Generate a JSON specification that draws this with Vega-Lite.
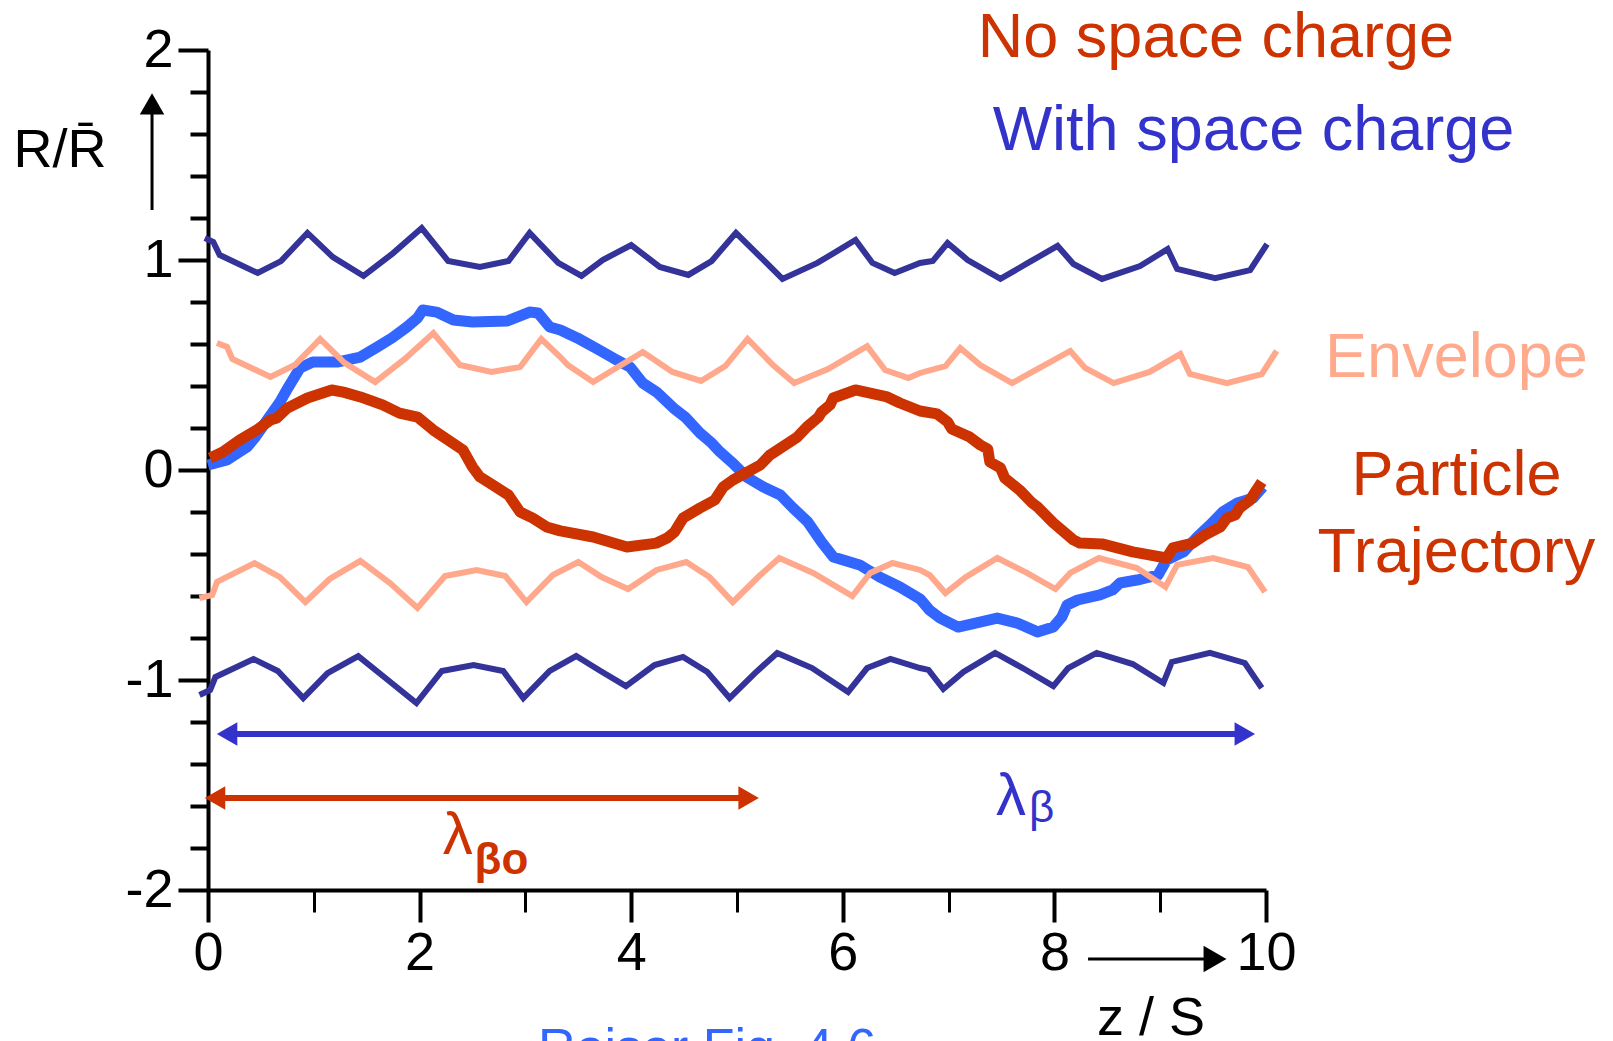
{
  "$schema": "https://vega.github.io/schema/vega-lite/v6.json",
  "width": 1058,
  "height": 840,
  "autosize": {"type": "none"},
  "padding": {"left": 208, "top": 50, "right": 347, "bottom": 151},
  "background": "white",
  "config": {"view": {"stroke": null}, "font": "Liberation Sans", "axis": {"grid": false, "title": null}},
  "datasets": {
    "withSC": [
      {"z":0.0,"r":0.024},{"z":0.18,"r":0.048},{"z":0.37,"r":0.11},{"z":0.44,"r":0.152},{"z":0.56,"r":0.238},{"z":0.68,"r":0.324},{"z":0.76,"r":0.395},{"z":0.87,"r":0.486},{"z":0.99,"r":0.514},{"z":1.22,"r":0.514},{"z":1.44,"r":0.538},{"z":1.6,"r":0.586},{"z":1.74,"r":0.629},{"z":1.88,"r":0.681},{"z":1.98,"r":0.724},{"z":2.03,"r":0.762},{"z":2.16,"r":0.752},{"z":2.32,"r":0.714},{"z":2.5,"r":0.705},{"z":2.83,"r":0.71},{"z":3.04,"r":0.752},{"z":3.12,"r":0.748},{"z":3.23,"r":0.681},{"z":3.33,"r":0.667},{"z":3.49,"r":0.629},{"z":3.68,"r":0.576},{"z":3.83,"r":0.533},{"z":3.99,"r":0.49},{"z":4.11,"r":0.414},{"z":4.24,"r":0.371},{"z":4.4,"r":0.295},{"z":4.51,"r":0.252},{"z":4.65,"r":0.176},{"z":4.76,"r":0.129},{"z":4.84,"r":0.086},{"z":4.96,"r":0.033},{"z":5.09,"r":-0.033},{"z":5.25,"r":-0.081},{"z":5.41,"r":-0.119},{"z":5.53,"r":-0.181},{"z":5.67,"r":-0.248},{"z":5.8,"r":-0.343},{"z":5.91,"r":-0.414},{"z":6.16,"r":-0.452},{"z":6.35,"r":-0.51},{"z":6.54,"r":-0.557},{"z":6.73,"r":-0.614},{"z":6.82,"r":-0.667},{"z":6.92,"r":-0.705},{"z":7.09,"r":-0.748},{"z":7.46,"r":-0.705},{"z":7.65,"r":-0.729},{"z":7.84,"r":-0.771},{"z":7.99,"r":-0.748},{"z":8.07,"r":-0.7},{"z":8.12,"r":-0.643},{"z":8.22,"r":-0.619},{"z":8.43,"r":-0.595},{"z":8.55,"r":-0.571},{"z":8.62,"r":-0.538},{"z":8.78,"r":-0.524},{"z":8.98,"r":-0.5},{"z":9.06,"r":-0.429},{"z":9.22,"r":-0.39},{"z":9.35,"r":-0.319},{"z":9.47,"r":-0.262},{"z":9.59,"r":-0.2},{"z":9.73,"r":-0.157},{"z":9.88,"r":-0.133},{"z":9.97,"r":-0.081}
    ],
    "noSC": [
      {"z":0.02,"r":0.057},{"z":0.14,"r":0.086},{"z":0.3,"r":0.143},{"z":0.46,"r":0.19},{"z":0.59,"r":0.238},{"z":0.65,"r":0.248},{"z":0.75,"r":0.295},{"z":0.94,"r":0.343},{"z":1.17,"r":0.381},{"z":1.28,"r":0.371},{"z":1.44,"r":0.348},{"z":1.65,"r":0.31},{"z":1.81,"r":0.271},{"z":1.98,"r":0.252},{"z":2.13,"r":0.19},{"z":2.41,"r":0.095},{"z":2.5,"r":0.014},{"z":2.57,"r":-0.033},{"z":2.69,"r":-0.071},{"z":2.84,"r":-0.119},{"z":2.95,"r":-0.2},{"z":3.07,"r":-0.229},{"z":3.2,"r":-0.271},{"z":3.33,"r":-0.29},{"z":3.64,"r":-0.319},{"z":3.96,"r":-0.367},{"z":4.24,"r":-0.348},{"z":4.34,"r":-0.324},{"z":4.41,"r":-0.295},{"z":4.49,"r":-0.229},{"z":4.65,"r":-0.181},{"z":4.79,"r":-0.143},{"z":4.87,"r":-0.081},{"z":4.96,"r":-0.048},{"z":5.22,"r":0.024},{"z":5.31,"r":0.071},{"z":5.57,"r":0.157},{"z":5.66,"r":0.205},{"z":5.77,"r":0.252},{"z":5.8,"r":0.276},{"z":5.88,"r":0.31},{"z":5.91,"r":0.343},{"z":6.12,"r":0.381},{"z":6.42,"r":0.348},{"z":6.54,"r":0.319},{"z":6.73,"r":0.281},{"z":6.89,"r":0.267},{"z":6.99,"r":0.229},{"z":7.03,"r":0.195},{"z":7.2,"r":0.157},{"z":7.3,"r":0.119},{"z":7.37,"r":0.1},{"z":7.39,"r":0.038},{"z":7.49,"r":0.01},{"z":7.53,"r":-0.038},{"z":7.67,"r":-0.095},{"z":7.79,"r":-0.157},{"z":7.84,"r":-0.176},{"z":7.99,"r":-0.252},{"z":8.18,"r":-0.333},{"z":8.24,"r":-0.348},{"z":8.45,"r":-0.352},{"z":8.74,"r":-0.39},{"z":9.06,"r":-0.419},{"z":9.12,"r":-0.371},{"z":9.31,"r":-0.348},{"z":9.42,"r":-0.31},{"z":9.57,"r":-0.271},{"z":9.63,"r":-0.229},{"z":9.71,"r":-0.214},{"z":9.75,"r":-0.181},{"z":9.85,"r":-0.143},{"z":9.91,"r":-0.095},{"z":9.96,"r":-0.057}
    ],
    "envNoSC": [
      {"edge":"upper","z":0.085,"r":0.605},{"edge":"upper","z":0.18,"r":0.586},{"edge":"upper","z":0.23,"r":0.529},{"edge":"upper","z":0.59,"r":0.443},{"edge":"upper","z":0.82,"r":0.5},{"edge":"upper","z":1.06,"r":0.624},{"edge":"upper","z":1.29,"r":0.51},{"edge":"upper","z":1.58,"r":0.419},{"edge":"upper","z":1.86,"r":0.529},{"edge":"upper","z":2.13,"r":0.652},{"edge":"upper","z":2.38,"r":0.5},{"edge":"upper","z":2.68,"r":0.467},{"edge":"upper","z":2.95,"r":0.49},{"edge":"upper","z":3.15,"r":0.624},{"edge":"upper","z":3.33,"r":0.538},{"edge":"upper","z":3.4,"r":0.5},{"edge":"upper","z":3.64,"r":0.419},{"edge":"upper","z":3.89,"r":0.495},{"edge":"upper","z":4.11,"r":0.562},{"edge":"upper","z":4.39,"r":0.467},{"edge":"upper","z":4.66,"r":0.424},{"edge":"upper","z":4.89,"r":0.495},{"edge":"upper","z":5.1,"r":0.624},{"edge":"upper","z":5.34,"r":0.5},{"edge":"upper","z":5.54,"r":0.414},{"edge":"upper","z":5.86,"r":0.481},{"edge":"upper","z":6.23,"r":0.59},{"edge":"upper","z":6.4,"r":0.476},{"edge":"upper","z":6.62,"r":0.438},{"edge":"upper","z":6.73,"r":0.462},{"edge":"upper","z":6.97,"r":0.495},{"edge":"upper","z":7.11,"r":0.581},{"edge":"upper","z":7.3,"r":0.5},{"edge":"upper","z":7.6,"r":0.414},{"edge":"upper","z":7.86,"r":0.486},{"edge":"upper","z":8.15,"r":0.567},{"edge":"upper","z":8.29,"r":0.486},{"edge":"upper","z":8.56,"r":0.414},{"edge":"upper","z":8.9,"r":0.467},{"edge":"upper","z":9.19,"r":0.552},{"edge":"upper","z":9.28,"r":0.457},{"edge":"upper","z":9.63,"r":0.414},{"edge":"upper","z":9.96,"r":0.457},{"edge":"upper","z":10.1,"r":0.567},
      {"edge":"lower","z":-0.08,"r":-0.61},{"edge":"lower","z":0.04,"r":-0.595},{"edge":"lower","z":0.085,"r":-0.533},{"edge":"lower","z":0.44,"r":-0.443},{"edge":"lower","z":0.68,"r":-0.51},{"edge":"lower","z":0.92,"r":-0.629},{"edge":"lower","z":1.15,"r":-0.519},{"edge":"lower","z":1.44,"r":-0.433},{"edge":"lower","z":1.72,"r":-0.538},{"edge":"lower","z":1.98,"r":-0.657},{"edge":"lower","z":2.24,"r":-0.505},{"edge":"lower","z":2.54,"r":-0.476},{"edge":"lower","z":2.81,"r":-0.505},{"edge":"lower","z":3.01,"r":-0.629},{"edge":"lower","z":3.26,"r":-0.5},{"edge":"lower","z":3.5,"r":-0.438},{"edge":"lower","z":3.72,"r":-0.51},{"edge":"lower","z":3.97,"r":-0.567},{"edge":"lower","z":4.24,"r":-0.476},{"edge":"lower","z":4.52,"r":-0.438},{"edge":"lower","z":4.74,"r":-0.51},{"edge":"lower","z":4.96,"r":-0.629},{"edge":"lower","z":5.21,"r":-0.505},{"edge":"lower","z":5.4,"r":-0.419},{"edge":"lower","z":5.72,"r":-0.49},{"edge":"lower","z":6.09,"r":-0.6},{"edge":"lower","z":6.26,"r":-0.49},{"edge":"lower","z":6.47,"r":-0.443},{"edge":"lower","z":6.73,"r":-0.476},{"edge":"lower","z":6.82,"r":-0.5},{"edge":"lower","z":6.97,"r":-0.586},{"edge":"lower","z":7.16,"r":-0.51},{"edge":"lower","z":7.46,"r":-0.419},{"edge":"lower","z":7.74,"r":-0.49},{"edge":"lower","z":8.01,"r":-0.567},{"edge":"lower","z":8.15,"r":-0.49},{"edge":"lower","z":8.42,"r":-0.419},{"edge":"lower","z":8.78,"r":-0.467},{"edge":"lower","z":9.05,"r":-0.557},{"edge":"lower","z":9.16,"r":-0.452},{"edge":"lower","z":9.5,"r":-0.419},{"edge":"lower","z":9.83,"r":-0.462},{"edge":"lower","z":9.99,"r":-0.581}
    ],
    "envWithSC": [
      {"edge":"upper","z":-0.03,"r":1.105},{"edge":"upper","z":0.05,"r":1.086},{"edge":"upper","z":0.11,"r":1.024},{"edge":"upper","z":0.47,"r":0.938},{"edge":"upper","z":0.69,"r":0.995},{"edge":"upper","z":0.94,"r":1.129},{"edge":"upper","z":1.18,"r":1.014},{"edge":"upper","z":1.47,"r":0.924},{"edge":"upper","z":1.75,"r":1.033},{"edge":"upper","z":2.02,"r":1.152},{"edge":"upper","z":2.27,"r":0.995},{"edge":"upper","z":2.57,"r":0.967},{"edge":"upper","z":2.84,"r":0.995},{"edge":"upper","z":3.04,"r":1.129},{"edge":"upper","z":3.31,"r":0.986},{"edge":"upper","z":3.53,"r":0.924},{"edge":"upper","z":3.73,"r":1.0},{"edge":"upper","z":4.0,"r":1.071},{"edge":"upper","z":4.27,"r":0.967},{"edge":"upper","z":4.54,"r":0.929},{"edge":"upper","z":4.76,"r":0.995},{"edge":"upper","z":4.99,"r":1.129},{"edge":"upper","z":5.24,"r":1.005},{"edge":"upper","z":5.43,"r":0.91},{"edge":"upper","z":5.76,"r":0.986},{"edge":"upper","z":6.12,"r":1.095},{"edge":"upper","z":6.28,"r":0.986},{"edge":"upper","z":6.49,"r":0.938},{"edge":"upper","z":6.73,"r":0.986},{"edge":"upper","z":6.85,"r":0.995},{"edge":"upper","z":6.99,"r":1.081},{"edge":"upper","z":7.18,"r":1.0},{"edge":"upper","z":7.49,"r":0.91},{"edge":"upper","z":7.75,"r":0.986},{"edge":"upper","z":8.03,"r":1.067},{"edge":"upper","z":8.18,"r":0.981},{"edge":"upper","z":8.45,"r":0.91},{"edge":"upper","z":8.81,"r":0.971},{"edge":"upper","z":9.07,"r":1.052},{"edge":"upper","z":9.16,"r":0.957},{"edge":"upper","z":9.52,"r":0.914},{"edge":"upper","z":9.85,"r":0.952},{"edge":"upper","z":10.01,"r":1.076},
      {"edge":"lower","z":-0.08,"r":-1.071},{"edge":"lower","z":0.02,"r":-1.048},{"edge":"lower","z":0.07,"r":-0.986},{"edge":"lower","z":0.43,"r":-0.9},{"edge":"lower","z":0.66,"r":-0.957},{"edge":"lower","z":0.9,"r":-1.086},{"edge":"lower","z":1.13,"r":-0.967},{"edge":"lower","z":1.42,"r":-0.886},{"edge":"lower","z":1.7,"r":-1.0},{"edge":"lower","z":1.97,"r":-1.11},{"edge":"lower","z":2.21,"r":-0.957},{"edge":"lower","z":2.51,"r":-0.929},{"edge":"lower","z":2.79,"r":-0.957},{"edge":"lower","z":2.98,"r":-1.086},{"edge":"lower","z":3.23,"r":-0.957},{"edge":"lower","z":3.48,"r":-0.886},{"edge":"lower","z":3.71,"r":-0.957},{"edge":"lower","z":3.95,"r":-1.029},{"edge":"lower","z":4.22,"r":-0.929},{"edge":"lower","z":4.49,"r":-0.89},{"edge":"lower","z":4.72,"r":-0.962},{"edge":"lower","z":4.93,"r":-1.086},{"edge":"lower","z":5.17,"r":-0.967},{"edge":"lower","z":5.38,"r":-0.871},{"edge":"lower","z":5.71,"r":-0.943},{"edge":"lower","z":6.05,"r":-1.057},{"edge":"lower","z":6.23,"r":-0.943},{"edge":"lower","z":6.45,"r":-0.9},{"edge":"lower","z":6.73,"r":-0.943},{"edge":"lower","z":6.81,"r":-0.952},{"edge":"lower","z":6.95,"r":-1.043},{"edge":"lower","z":7.14,"r":-0.962},{"edge":"lower","z":7.44,"r":-0.871},{"edge":"lower","z":7.7,"r":-0.943},{"edge":"lower","z":7.99,"r":-1.029},{"edge":"lower","z":8.13,"r":-0.943},{"edge":"lower","z":8.4,"r":-0.871},{"edge":"lower","z":8.74,"r":-0.924},{"edge":"lower","z":9.03,"r":-1.014},{"edge":"lower","z":9.11,"r":-0.914},{"edge":"lower","z":9.47,"r":-0.871},{"edge":"lower","z":9.8,"r":-0.919},{"edge":"lower","z":9.96,"r":-1.038}
    ],
    "lambdaB": [{"z1":0.18,"z2":9.8,"r":-1.257}],
    "lambdaBHeads": [{"z":0.18,"r":-1.257,"dir":"left"},{"z":9.8,"r":-1.257,"dir":"right"}],
    "lambdaB0": [{"z1":0.066,"z2":5.11,"r":-1.562}],
    "lambdaB0Heads": [{"z":0.066,"r":-1.562,"dir":"left"},{"z":5.11,"r":-1.562,"dir":"right"}],
    "upArrow": [{"z":-0.529,"r1":1.238,"r2":1.743}],
    "rightArrow": [{"z1":8.318,"z2":9.518,"r":-2.329}]
  },
  "resolve": {"axis": {"x": "independent", "y": "independent"}},
  "layer": [
    {
      "data": {"name": "withSC"},
      "mark": {"type": "line", "color": "#3366FF", "strokeWidth": 11, "strokeJoin": "round", "strokeCap": "butt"},
      "encoding": {
        "x": {"field": "z", "type": "quantitative", "scale": {"domain": [0, 10], "nice": false, "zero": false},
          "axis": {"orient": "bottom", "values": [0, 2, 4, 6, 8, 10], "labelExpr": "toString(datum.value)", "tickSize": 32, "tickWidth": 4, "tickColor": "black", "domainWidth": 4, "domainColor": "black", "labelFontSize": 54, "labelColor": "black", "labelFont": "Liberation Sans", "labelPadding": 4, "labelFlush": false, "labelOverlap": false, "grid": false, "title": null}},
        "y": {"field": "r", "type": "quantitative", "scale": {"domain": [-2, 2], "nice": false, "zero": false},
          "axis": {"orient": "left", "values": [-2, -1, 0, 1, 2], "labelExpr": "toString(datum.value)", "tickSize": 30, "tickWidth": 4, "tickColor": "black", "domainWidth": 4, "domainColor": "black", "labelFontSize": 54, "labelColor": "black", "labelFont": "Liberation Sans", "labelPadding": 5, "labelFlush": false, "labelOverlap": false, "grid": false, "title": null}}
      }
    },
    {
      "data": {"name": "noSC"},
      "mark": {"type": "line", "color": "#CC3300", "strokeWidth": 11, "strokeJoin": "round", "strokeCap": "butt"},
      "encoding": {
        "x": {"field": "z", "type": "quantitative", "scale": {"domain": [0, 10], "nice": false, "zero": false},
          "axis": {"orient": "bottom", "values": [1, 3, 5, 7, 9], "tickSize": 22, "tickWidth": 3, "tickColor": "black", "domain": false, "labels": false, "grid": false, "title": null}},
        "y": {"field": "r", "type": "quantitative", "scale": {"domain": [-2, 2], "nice": false, "zero": false},
          "axis": {"orient": "left", "values": [-1.8, -1.6, -1.4, -1.2, -0.8, -0.6, -0.4, -0.2, 0.2, 0.4, 0.6, 0.8, 1.2, 1.4, 1.6, 1.8], "tickSize": 18, "tickWidth": 4, "tickColor": "black", "domain": false, "labels": false, "grid": false, "title": null}}
      }
    },
    {
      "data": {"name": "envNoSC"},
      "mark": {"type": "line", "color": "#FFA88C", "strokeWidth": 6, "strokeJoin": "miter"},
      "encoding": {
        "x": {"field": "z", "type": "quantitative", "scale": {"domain": [0, 10], "nice": false, "zero": false}, "axis": null},
        "y": {"field": "r", "type": "quantitative", "scale": {"domain": [-2, 2], "nice": false, "zero": false}, "axis": null},
        "detail": {"field": "edge", "type": "nominal"}
      }
    },
    {
      "data": {"name": "envWithSC"},
      "mark": {"type": "line", "color": "#333399", "strokeWidth": 6, "strokeJoin": "miter"},
      "encoding": {
        "x": {"field": "z", "type": "quantitative", "scale": {"domain": [0, 10], "nice": false, "zero": false}, "axis": null},
        "y": {"field": "r", "type": "quantitative", "scale": {"domain": [-2, 2], "nice": false, "zero": false}, "axis": null},
        "detail": {"field": "edge", "type": "nominal"}
      }
    },
    {
      "data": {"name": "lambdaB"},
      "mark": {"type": "rule", "color": "#3333CC", "strokeWidth": 6},
      "encoding": {
        "x": {"field": "z1", "type": "quantitative", "scale": {"domain": [0, 10], "nice": false, "zero": false}, "axis": null},
        "x2": {"field": "z2"},
        "y": {"field": "r", "type": "quantitative", "scale": {"domain": [-2, 2], "nice": false, "zero": false}, "axis": null}
      }
    },
    {
      "data": {"name": "lambdaBHeads"},
      "mark": {"type": "point", "filled": true, "color": "#3333CC", "opacity": 1, "size": 560},
      "encoding": {
        "x": {"field": "z", "type": "quantitative", "scale": {"domain": [0, 10], "nice": false, "zero": false}, "axis": null},
        "y": {"field": "r", "type": "quantitative", "scale": {"domain": [-2, 2], "nice": false, "zero": false}, "axis": null},
        "shape": {"field": "dir", "type": "nominal", "scale": {"domain": ["left", "right"], "range": ["triangle-left", "triangle-right"]}, "legend": null}
      }
    },
    {
      "data": {"name": "lambdaB0"},
      "mark": {"type": "rule", "color": "#CC3300", "strokeWidth": 6},
      "encoding": {
        "x": {"field": "z1", "type": "quantitative", "scale": {"domain": [0, 10], "nice": false, "zero": false}, "axis": null},
        "x2": {"field": "z2"},
        "y": {"field": "r", "type": "quantitative", "scale": {"domain": [-2, 2], "nice": false, "zero": false}, "axis": null}
      }
    },
    {
      "data": {"name": "lambdaB0Heads"},
      "mark": {"type": "point", "filled": true, "color": "#CC3300", "opacity": 1, "size": 560},
      "encoding": {
        "x": {"field": "z", "type": "quantitative", "scale": {"domain": [0, 10], "nice": false, "zero": false}, "axis": null},
        "y": {"field": "r", "type": "quantitative", "scale": {"domain": [-2, 2], "nice": false, "zero": false}, "axis": null},
        "shape": {"field": "dir", "type": "nominal", "scale": {"domain": ["left", "right"], "range": ["triangle-left", "triangle-right"]}, "legend": null}
      }
    },
    {
      "data": {"name": "upArrow"},
      "mark": {"type": "rule", "color": "black", "strokeWidth": 3},
      "encoding": {
        "x": {"field": "z", "type": "quantitative", "scale": {"domain": [0, 10], "nice": false, "zero": false}, "axis": null},
        "y": {"field": "r1", "type": "quantitative", "scale": {"domain": [-2, 2], "nice": false, "zero": false}, "axis": null},
        "y2": {"field": "r2"}
      }
    },
    {
      "data": {"name": "upArrow"},
      "mark": {"type": "point", "shape": "triangle-up", "filled": true, "color": "black", "opacity": 1, "size": 600},
      "encoding": {
        "x": {"field": "z", "type": "quantitative", "scale": {"domain": [0, 10], "nice": false, "zero": false}, "axis": null},
        "y": {"field": "r2", "type": "quantitative", "scale": {"domain": [-2, 2], "nice": false, "zero": false}, "axis": null}
      }
    },
    {
      "data": {"name": "rightArrow"},
      "mark": {"type": "rule", "color": "black", "strokeWidth": 3},
      "encoding": {
        "x": {"field": "z1", "type": "quantitative", "scale": {"domain": [0, 10], "nice": false, "zero": false}, "axis": null},
        "x2": {"field": "z2"},
        "y": {"field": "r", "type": "quantitative", "scale": {"domain": [-2, 2], "nice": false, "zero": false}, "axis": null}
      }
    },
    {
      "data": {"name": "rightArrow"},
      "mark": {"type": "point", "shape": "triangle-right", "filled": true, "color": "black", "opacity": 1, "size": 700},
      "encoding": {
        "x": {"field": "z2", "type": "quantitative", "scale": {"domain": [0, 10], "nice": false, "zero": false}, "axis": null},
        "y": {"field": "r", "type": "quantitative", "scale": {"domain": [-2, 2], "nice": false, "zero": false}, "axis": null}
      }
    },
    {
      "data": {"values": [{"label": "No space charge", "z": 9.527, "r": 1.967}, {"label": "Particle", "z": 11.8, "r": -0.119}, {"label": "Trajectory", "z": 11.8, "r": -0.486}]},
      "mark": {"type": "text", "align": "center", "baseline": "alphabetic", "font": "Liberation Sans", "fontSize": 63, "color": "#CC3300"},
      "encoding": {
        "x": {"field": "z", "type": "quantitative", "scale": {"domain": [0, 10], "nice": false, "zero": false}, "axis": null},
        "y": {"field": "r", "type": "quantitative", "scale": {"domain": [-2, 2], "nice": false, "zero": false}, "axis": null},
        "text": {"field": "label"}
      }
    },
    {
      "data": {"values": [{"label": "With space charge", "z": 9.882, "r": 1.524}]},
      "mark": {"type": "text", "align": "center", "baseline": "alphabetic", "font": "Liberation Sans", "fontSize": 63, "color": "#3333CC"},
      "encoding": {
        "x": {"field": "z", "type": "quantitative", "scale": {"domain": [0, 10], "nice": false, "zero": false}, "axis": null},
        "y": {"field": "r", "type": "quantitative", "scale": {"domain": [-2, 2], "nice": false, "zero": false}, "axis": null},
        "text": {"field": "label"}
      }
    },
    {
      "data": {"values": [{"label": "Envelope", "z": 11.8, "r": 0.443}]},
      "mark": {"type": "text", "align": "center", "baseline": "alphabetic", "font": "Liberation Sans", "fontSize": 63, "color": "#FFAA8C"},
      "encoding": {
        "x": {"field": "z", "type": "quantitative", "scale": {"domain": [0, 10], "nice": false, "zero": false}, "axis": null},
        "y": {"field": "r", "type": "quantitative", "scale": {"domain": [-2, 2], "nice": false, "zero": false}, "axis": null},
        "text": {"field": "label"}
      }
    },
    {
      "data": {"values": [{"label": "λ", "z": 2.36, "r": -1.829}]},
      "mark": {"type": "text", "align": "center", "baseline": "alphabetic", "font": "Liberation Sans", "fontSize": 60, "color": "#CC3300"},
      "encoding": {
        "x": {"field": "z", "type": "quantitative", "scale": {"domain": [0, 10], "nice": false, "zero": false}, "axis": null},
        "y": {"field": "r", "type": "quantitative", "scale": {"domain": [-2, 2], "nice": false, "zero": false}, "axis": null},
        "text": {"field": "label"}
      }
    },
    {
      "data": {"values": [{"label": "βo", "z": 2.52, "r": -1.924}]},
      "mark": {"type": "text", "align": "left", "baseline": "alphabetic", "font": "Liberation Sans", "fontSize": 44, "fontWeight": "bold", "color": "#CC3300"},
      "encoding": {
        "x": {"field": "z", "type": "quantitative", "scale": {"domain": [0, 10], "nice": false, "zero": false}, "axis": null},
        "y": {"field": "r", "type": "quantitative", "scale": {"domain": [-2, 2], "nice": false, "zero": false}, "axis": null},
        "text": {"field": "label"}
      }
    },
    {
      "data": {"values": [{"label": "λ", "z": 7.59, "r": -1.643}]},
      "mark": {"type": "text", "align": "center", "baseline": "alphabetic", "font": "Liberation Sans", "fontSize": 60, "color": "#3333CC"},
      "encoding": {
        "x": {"field": "z", "type": "quantitative", "scale": {"domain": [0, 10], "nice": false, "zero": false}, "axis": null},
        "y": {"field": "r", "type": "quantitative", "scale": {"domain": [-2, 2], "nice": false, "zero": false}, "axis": null},
        "text": {"field": "label"}
      }
    },
    {
      "data": {"values": [{"label": "β", "z": 7.76, "r": -1.676}]},
      "mark": {"type": "text", "align": "left", "baseline": "alphabetic", "font": "Liberation Sans", "fontSize": 44, "color": "#3333CC"},
      "encoding": {
        "x": {"field": "z", "type": "quantitative", "scale": {"domain": [0, 10], "nice": false, "zero": false}, "axis": null},
        "y": {"field": "r", "type": "quantitative", "scale": {"domain": [-2, 2], "nice": false, "zero": false}, "axis": null},
        "text": {"field": "label"}
      }
    },
    {
      "data": {"values": [{"label": "R/R̄", "z": -1.399, "r": 1.443}, {"label": "z / S", "z": 8.913, "r": -2.69}]},
      "mark": {"type": "text", "align": "center", "baseline": "alphabetic", "font": "Liberation Sans", "fontSize": 54, "color": "black"},
      "encoding": {
        "x": {"field": "z", "type": "quantitative", "scale": {"domain": [0, 10], "nice": false, "zero": false}, "axis": null},
        "y": {"field": "r", "type": "quantitative", "scale": {"domain": [-2, 2], "nice": false, "zero": false}, "axis": null},
        "text": {"field": "label"}
      }
    },
    {
      "data": {"values": [{"label": "Reiser Fig. 4.6", "z": 3.12, "r": -2.833}]},
      "mark": {"type": "text", "align": "left", "baseline": "alphabetic", "font": "Liberation Sans", "fontSize": 52, "color": "#3366FF"},
      "encoding": {
        "x": {"field": "z", "type": "quantitative", "scale": {"domain": [0, 10], "nice": false, "zero": false}, "axis": null},
        "y": {"field": "r", "type": "quantitative", "scale": {"domain": [-2, 2], "nice": false, "zero": false}, "axis": null},
        "text": {"field": "label"}
      }
    }
  ]
}
